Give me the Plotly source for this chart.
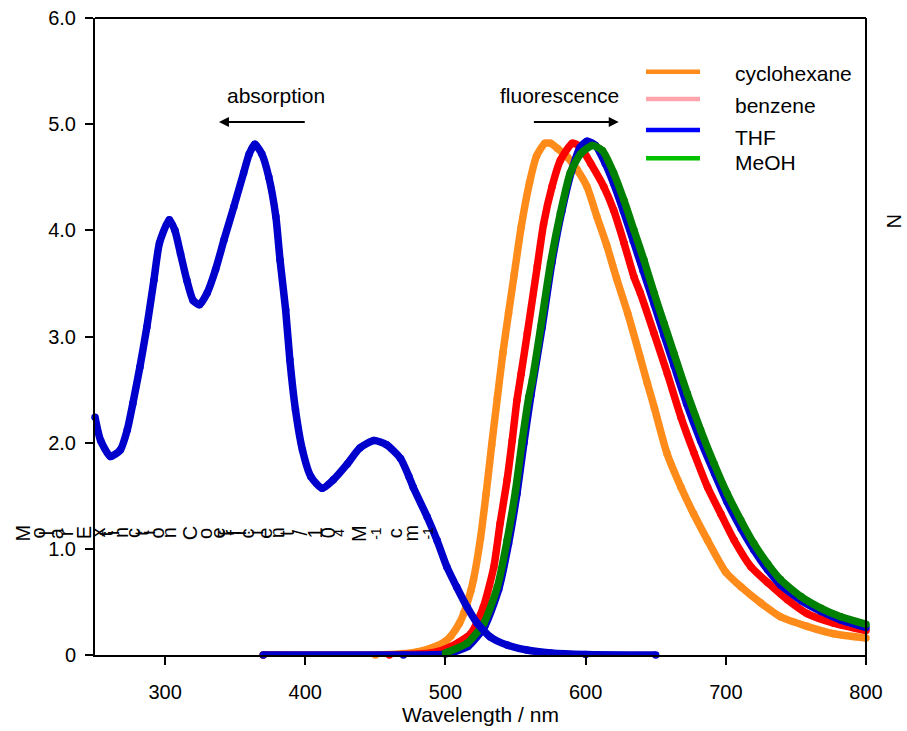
import plotly.graph_objects as go

# absorption spectrum (THF), molar extinction / 10^4 M-1 cm-1
abs_wl = [250, 254, 261, 268, 273, 277, 282, 287, 292, 296, 303, 307, 311, 315.5, 320, 324.5,
          330, 336, 342, 349, 356, 360, 364, 369, 374, 379, 382, 386, 389, 393, 398, 404,
          412, 420, 430, 439, 449, 458, 468, 474, 477, 487, 494, 501, 508, 515.5, 522.6,
          532, 544, 558, 575, 600, 650]
abs_val = [2.24, 2.02, 1.87, 1.93, 2.12, 2.37, 2.71, 3.09, 3.53, 3.88, 4.10, 4.00, 3.78, 3.53,
           3.34, 3.30, 3.41, 3.63, 3.91, 4.22, 4.54, 4.72, 4.81, 4.72, 4.50, 4.13, 3.72, 3.25,
           2.78, 2.31, 1.93, 1.68, 1.57, 1.65, 1.80, 1.95, 2.02, 1.98, 1.85, 1.68, 1.58, 1.30,
           1.08, 0.83, 0.64, 0.45, 0.30, 0.17, 0.094, 0.047, 0.02, 0.005, 0.0]

# fluorescence spectra (normalised, drawn on the same scale)
chx_wl = [370, 450, 480, 491, 500, 504, 510, 513, 518, 520, 525, 529, 533, 537, 541, 545,
          549, 554, 560, 565, 571, 575, 580, 587, 594, 601, 608, 615, 622, 630, 639, 644,
          649, 658, 668, 677, 687, 700, 711, 725, 739, 758, 777, 800]
chx_val = [0, 0, 0.03, 0.07, 0.13, 0.18, 0.30, 0.39, 0.60, 0.71, 1.10, 1.52, 1.98, 2.42, 2.85,
           3.22, 3.58, 4.03, 4.45, 4.70, 4.82, 4.82, 4.77, 4.69, 4.57, 4.41, 4.13, 3.86, 3.55,
           3.22, 2.80, 2.56, 2.33, 1.90, 1.58, 1.33, 1.08, 0.78, 0.64, 0.49, 0.36, 0.27, 0.20,
           0.16]

bz_wl = [370, 460, 490, 504, 518, 527, 534.5, 539, 544, 547.6, 551, 554, 558.4, 565.5, 570,
         576, 582, 590.5, 596, 603.6, 613, 620, 627.4, 634.5, 639, 648.8, 658.3, 668, 677.4,
         687, 696.4, 706, 718, 730, 744, 758, 777, 800]
bz_val = [0, 0, 0.02, 0.08, 0.20, 0.45, 0.83, 1.24, 1.65, 2.02, 2.40, 2.65, 3.03, 3.66, 4.06,
          4.41, 4.66, 4.82, 4.79, 4.63, 4.41, 4.19, 3.88, 3.56, 3.41, 3.03, 2.65, 2.24, 1.90,
          1.58, 1.33, 1.08, 0.83, 0.68, 0.52, 0.39, 0.30, 0.23]

thf_wl = [370, 470, 500, 516, 528, 538, 545, 551, 556, 561, 569, 576, 583, 590, 596, 601, 607,
          614, 620, 627, 634, 641, 649, 656, 663, 672, 682, 692, 701, 711, 720, 730, 739, 754,
          768, 782, 800]
thf_val = [0, 0, 0.01, 0.08, 0.27, 0.62, 1.05, 1.52, 2.00, 2.45, 3.09, 3.70, 4.18, 4.56, 4.78,
           4.84, 4.80, 4.63, 4.44, 4.18, 3.90, 3.62, 3.30, 3.01, 2.73, 2.37, 2.02, 1.71, 1.44,
           1.19, 0.99, 0.80, 0.66, 0.51, 0.41, 0.33, 0.26]

meoh_wl = [500, 515.5, 527.4, 537, 544, 550, 554.8, 559.5, 562, 568, 575, 582, 589, 596.4,
           604.8, 612, 620, 627.4, 634.5, 641.6, 648.8, 656, 663, 672.6, 682, 691.7, 701,
           710.7, 720, 729.8, 739, 753.6, 768, 782, 800]
meoh_val = [0.02, 0.11, 0.30, 0.64, 1.08, 1.55, 2.02, 2.43, 2.59, 3.09, 3.69, 4.16, 4.54, 4.72,
            4.80, 4.75, 4.54, 4.28, 4.00, 3.72, 3.41, 3.12, 2.84, 2.46, 2.12, 1.80, 1.52, 1.27,
            1.05, 0.86, 0.71, 0.55, 0.44, 0.36, 0.29]

legend_names = ["cyclohexane", "benzene", "THF", "MeOH"]
legend_colors = ["#FF8C1A", "#FFA3AC", "#0000FF", "#00C000"]

x_ticks = [300, 400, 500, 600, 700, 800]
y_ticks = [0, 1, 2, 3, 4, 5, 6]
y_ticktext = ["0", "1.0", "2.0", "3.0", "4.0", "5.0", "6.0"]

y_label = list("Molar Extinction Coefficient / 10") + ["<sup>4</sup>", " ", "M", "<sup>-1</sup>",
                                                       " ", "c", "m", "<sup>-1</sup>"]
right_label = "N"

FONT = "Liberation Sans, Arial, sans-serif"
W, H = 907, 731
L, R, T, B = 95, 41, 18, 76
PW, PH = W - L - R, H - T - B


def px2paper(px, py):
    return (px - L) / PW, (H - B - py) / PH


fig = go.Figure()

curves = [
    (chx_wl, chx_val, "#FF8C1A"),
    (bz_wl, bz_val, "#FF0000"),
    (thf_wl, thf_val, "#0000CC"),
    (meoh_wl, meoh_val, "#008000"),
    (abs_wl, abs_val, "#0000CC"),
]
for xs, ys, col in curves:
    fig.add_trace(go.Scatter(x=xs, y=ys, mode="lines+markers", showlegend=False,
                             line=dict(color=col, width=7.5, shape="spline", smoothing=0.6),
                             marker=dict(color=col, size=7.5), cliponaxis=False))

fig.update_layout(
    width=W, height=H,
    margin=dict(l=L, r=R, t=T, b=B),
    plot_bgcolor="white", paper_bgcolor="white",
    font=dict(family=FONT, size=20, color="black"),
    showlegend=False,
    xaxis=dict(range=[250, 800], tickvals=x_ticks, showgrid=False, zeroline=False,
               showline=True, linecolor="black", linewidth=2, ticks="outside", ticklen=8,
               tickwidth=2, tickcolor="black", ticklabelstandoff=10,
               title=dict(text="Wavelength / nm", font=dict(size=21), standoff=4),
               automargin=False),
    yaxis=dict(range=[0, 6], tickvals=y_ticks, ticktext=y_ticktext, showgrid=False,
               zeroline=False, showline=True, linecolor="black", linewidth=2,
               ticks="outside", ticklen=8, tickwidth=2, tickcolor="black",
               ticklabelstandoff=5, automargin=False),
)

# frame: top line and right axis line (which runs a bit below the x axis)
fig.add_shape(type="line", xref="paper", yref="paper", x0=0, x1=1, y0=1, y1=1,
              line=dict(color="black", width=2))
fig.add_shape(type="line", xref="paper", yref="paper", x0=1, x1=1, y0=-10 / PH, y1=1,
              line=dict(color="black", width=2))

# legend drawn by hand (swatch colours differ from the curves)
swatch_y = [71.7, 99, 130, 158.3]
text_y = [73, 105, 137, 162]
for name, col, sy, ty in zip(legend_names, legend_colors, swatch_y, text_y):
    x0, y0 = px2paper(646, sy)
    x1, _ = px2paper(700, sy)
    fig.add_shape(type="line", xref="paper", yref="paper", x0=x0, x1=x1, y0=y0, y1=y0,
                  line=dict(color=col, width=4.5))
    tx, tyy = px2paper(733, ty)
    fig.add_annotation(x=tx, y=tyy, xref="paper", yref="paper", text=name, showarrow=False,
                       xanchor="left", yanchor="middle", font=dict(size=21))

# absorption / fluorescence arrows
fig.add_annotation(x=338.4, y=5.02, ax=400.7, ay=5.02, xref="x", yref="y", axref="x", ayref="y",
                   text="", showarrow=True, arrowhead=2, arrowsize=1, arrowwidth=2,
                   arrowcolor="black")
fig.add_annotation(x=379, y=5.27, xref="x", yref="y", text="absorption", showarrow=False,
                   font=dict(size=21))
fig.add_annotation(x=623.6, y=5.02, ax=562, ay=5.02, xref="x", yref="y", axref="x", ayref="y",
                   text="", showarrow=True, arrowhead=2, arrowsize=1, arrowwidth=2,
                   arrowcolor="black")
fig.add_annotation(x=581.4, y=5.27, xref="x", yref="y", text="fluorescence", showarrow=False,
                   font=dict(size=21))

# y label: glyphs turned one by one, laid out left to right
widths = {"M": 833, "o": 556, "l": 222, "a": 556, "r": 333, " ": 278, "E": 667, "x": 500,
          "t": 278, "i": 222, "n": 556, "c": 500, "C": 722, "e": 556, "f": 278, "/": 278,
          "1": 556, "0": 556, "m": 833, "<sup>4</sup>": 370, "<sup>-1</sup>": 650}
cum = 0
centers = []
for tok in y_label:
    w = widths.get(tok, 556)
    centers.append(cum + w / 2)
    cum += w
scale = (435 - 13) / cum
for tok, c in zip(y_label, centers):
    if tok == " ":
        continue
    gx, gy = px2paper(13 + c * scale, 533)
    fig.add_annotation(x=gx, y=gy, xref="paper", yref="paper", text=tok, textangle=-90,
                       showarrow=False, xanchor="center", yanchor="middle",
                       font=dict(size=20))

nx, ny = px2paper(894, 221)
fig.add_annotation(x=nx, y=ny, xref="paper", yref="paper", text=right_label, textangle=90,
                   showarrow=False, xanchor="center", yanchor="middle", font=dict(size=20))

# the page has a default body margin; drop it so the figure sits at 0,0
fig.write_html("out.html", config={"displayModeBar": False},
               post_script="document.body.style.margin='0';")
